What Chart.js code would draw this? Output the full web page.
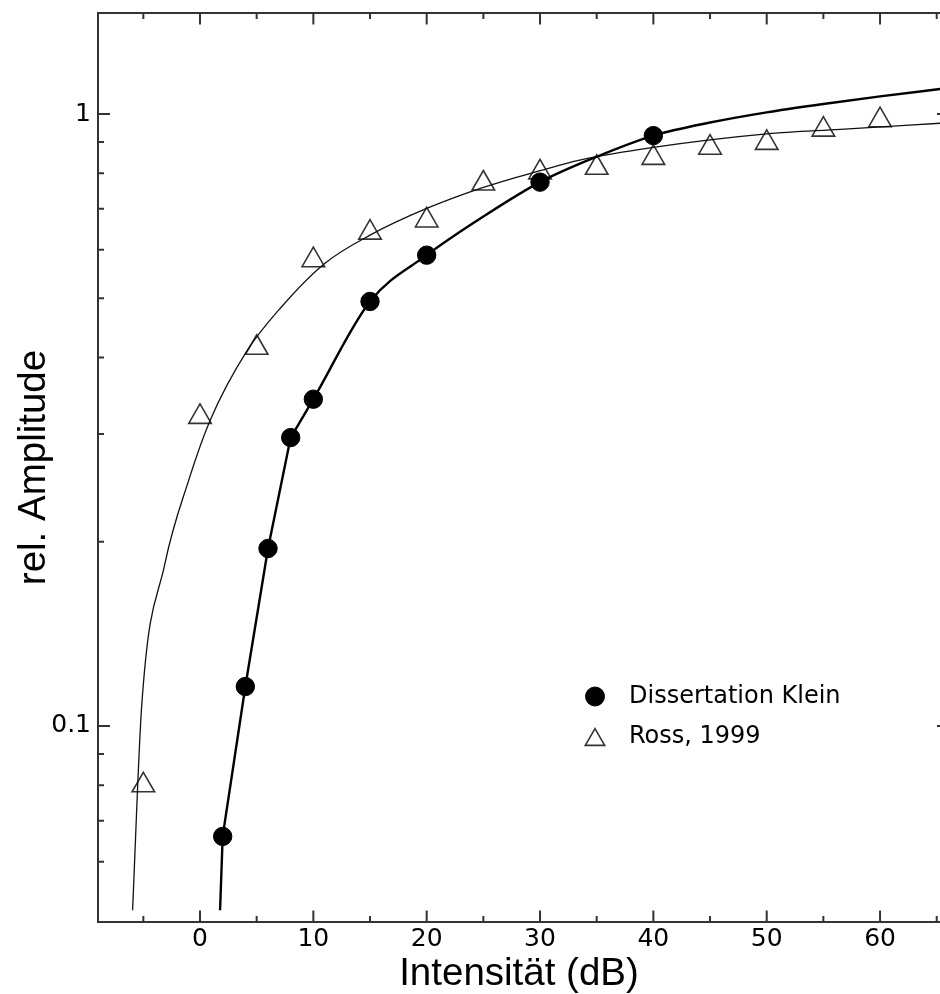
<!DOCTYPE html>
<html>
<head>
<meta charset="utf-8">
<script src="https://cdn.jsdelivr.net/npm/chart.js@4/dist/chart.umd.min.js"></script>
<style>
html,body{margin:0;padding:0;background:#fff;overflow:hidden;}
#wrap{width:940px;height:994px;overflow:hidden;}
</style>
</head>
<body>
<div id="wrap"><canvas id="c" width="940" height="994"></canvas></div>
<script>
// ---- data ----
const kleinX = [2, 4, 6, 8, 10, 15, 20, 30, 40];
const kleinY = [0.066, 0.116, 0.195, 0.296, 0.342, 0.494, 0.588, 0.774, 0.922];

const rossX = [-5, 0, 5, 10, 15, 20, 25, 30, 35, 40, 45, 50, 55, 60];
const rossY = [0.080, 0.320, 0.415, 0.577, 0.640, 0.670, 0.770, 0.803, 0.817, 0.848, 0.881, 0.897, 0.943, 0.977];

// fitted curves
// steep lower part of the Klein fit (drawn as straight segments)
const kleinFitLowX = [1.77, 2.0, 4.0, 6.0, 8.0];
const kleinFitLowY = [0.050, 0.066, 0.116, 0.195, 0.296];
// flatter upper part of the Klein fit (smooth)
const kleinFitHighX = [8.0, 10.0, 15.0, 20.0, 25.0, 30.0, 35.0, 40.0, 45.0, 50.0, 55.0, 60.0, 65.3];
const kleinFitHighY = [0.296, 0.342, 0.494, 0.588, 0.680, 0.774, 0.8515, 0.922, 0.9685, 1.0064, 1.0383, 1.0685, 1.0986];

const rossFitX = [-5.95, -5.15, -3.1, -1.0, 0.9, 4.1, 7.1, 11.0, 15.0, 20.0, 25.0, 30.0, 33.5, 40.0, 50.0, 56.5, 65.3];
const rossFitY = [0.050, 0.1075, 0.184, 0.252, 0.316, 0.409, 0.482, 0.570, 0.634, 0.701, 0.759, 0.808, 0.841, 0.882, 0.928, 0.944, 0.966];

const xTickValues = [0, 10, 20, 30, 40, 50, 60];
const xMinorValues = [-5, 5, 15, 25, 35, 45, 55, 65];
const yTickValues = [0.1, 1];
const yMinorValues = [0.06, 0.07, 0.08, 0.09, 0.2, 0.3, 0.4, 0.5, 0.6, 0.7, 0.8, 0.9];

const xTitle = 'Intensität (dB)';
const yTitle = 'rel. Amplitude';
const kleinLabel = 'Dissertation Klein';
const rossLabel = 'Ross, 1999';

const zip = (xs, ys) => xs.map((x, i) => ({x: x, y: ys[i]}));

const AXIS_COLOR = '#333';

const noPad = s => { s.paddingLeft = 0; s.paddingRight = 0; s.paddingTop = 0; s.paddingBottom = 0; };

// frame, inward ticks and inner legend
const framePlugin = {
  id: 'frameTicksLegend',
  afterDraw(chart) {
    const ctx = chart.ctx;
    const a = chart.chartArea;
    const xs = chart.scales.x, ys = chart.scales.y;
    const rightSpine = a.right + 9; // the right spine lies just outside the picture
    ctx.save();
    ctx.strokeStyle = AXIS_COLOR;
    ctx.lineWidth = 2;
    ctx.beginPath();
    ctx.moveTo(rightSpine, a.top);
    ctx.lineTo(a.left, a.top);
    ctx.lineTo(a.left, a.bottom);
    ctx.lineTo(rightSpine, a.bottom);
    ctx.stroke();
    const tick = (x1, y1, x2, y2) => { ctx.moveTo(x1, y1); ctx.lineTo(x2, y2); };
    ctx.beginPath();
    xTickValues.forEach(v => {
      const p = xs.getPixelForValue(v);
      tick(p, a.bottom, p, a.bottom - 11.5);
      tick(p, a.top, p, a.top + 11.5);
    });
    xMinorValues.forEach(v => {
      const p = xs.getPixelForValue(v);
      tick(p, a.bottom, p, a.bottom - 6);
      tick(p, a.top, p, a.top + 6);
    });
    yTickValues.forEach(v => {
      const p = ys.getPixelForValue(v);
      tick(a.left, p, a.left + 12, p);
      tick(rightSpine, p, rightSpine - 12, p);
    });
    yMinorValues.forEach(v => {
      const p = ys.getPixelForValue(v);
      tick(a.left, p, a.left + 6, p);
      tick(rightSpine, p, rightSpine - 6, p);
    });
    ctx.stroke();

    // legend inside the plot area
    const items = chart.data.datasets.filter(d => d.inLegend);
    const markerX = a.left + 497;
    const textX = a.left + 531;
    items.forEach((d, i) => {
      const midY = a.top + 683.5 + i * 40.5;
      const r = d.legendRadius;
      const cy = d.pointStyle === 'triangle' ? midY + r / 4 : midY;
      ctx.fillStyle = d.backgroundColor;
      ctx.strokeStyle = d.borderColor;
      ctx.lineWidth = d.borderWidth;
      Chart.helpers.drawPoint(ctx, {pointStyle: d.pointStyle, radius: r, borderWidth: d.borderWidth, rotation: 0}, markerX, cy);
      ctx.fillStyle = '#000';
      ctx.font = '24px "DejaVu Sans"';
      ctx.textBaseline = 'middle';
      ctx.textAlign = 'left';
      ctx.fillText(d.label, textX, midY);
    });
    ctx.restore();
  }
};

new Chart(document.getElementById('c'), {
  type: 'scatter',
  data: {
    datasets: [
      {
        label: 'Klein fit (low)',
        data: zip(kleinFitLowX, kleinFitLowY),
        showLine: true,
        pointRadius: 0,
        borderColor: '#000',
        borderWidth: 2.4,
        borderJoinStyle: 'round',
        tension: 0,
        fill: false
      },
      {
        label: 'Klein fit (high)',
        data: zip(kleinFitHighX, kleinFitHighY),
        showLine: true,
        pointRadius: 0,
        borderColor: '#000',
        borderWidth: 2.4,
        cubicInterpolationMode: 'monotone',
        fill: false
      },
      {
        label: 'Ross fit',
        data: zip(rossFitX, rossFitY),
        showLine: true,
        pointRadius: 0,
        borderColor: '#111',
        borderWidth: 1.3,
        cubicInterpolationMode: 'monotone',
        fill: false
      },
      {
        label: kleinLabel,
        data: zip(kleinX, kleinY),
        pointStyle: 'circle',
        pointRadius: 9.2,
        backgroundColor: '#000',
        borderColor: '#000',
        borderWidth: 1,
        inLegend: true,
        legendRadius: 9.5
      },
      {
        label: rossLabel,
        data: zip(rossX, rossY),
        pointStyle: 'triangle',
        pointRadius: 13,
        backgroundColor: 'rgba(0,0,0,0)',
        borderColor: '#333',
        borderWidth: 1.6,
        inLegend: true,
        legendRadius: 11.2
      }
    ]
  },
  options: {
    responsive: false,
    animation: false,
    devicePixelRatio: 1,
    layout: {autoPadding: false, padding: {top: 13, right: 0, bottom: 0, left: 0}},
    plugins: {
      legend: {display: false},
      tooltip: {enabled: false}
    },
    scales: {
      x: {
        type: 'linear',
        position: 'bottom',
        min: -9.0,
        max: 65.29,
        grid: {display: false, drawTicks: false},
        border: {display: false},
        afterBuildTicks: s => { s.ticks = xTickValues.map(v => ({value: v})); },
        afterFit: s => { s.height = 72; noPad(s); },
        ticks: {
          padding: 4.5,
          color: '#000',
          maxRotation: 0,
          font: {family: '"DejaVu Sans"', size: 25, lineHeight: 1},
          callback: v => String(v)
        },
        title: {
          display: true,
          text: xTitle,
          color: '#000',
          padding: {top: 0, bottom: 0},
          font: {family: '"Liberation Sans"', size: 38.5, lineHeight: 1}
        }
      },
      y: {
        type: 'logarithmic',
        position: 'left',
        min: 0.04783,
        max: 1.4625,
        grid: {display: false, drawTicks: false},
        border: {display: false},
        afterBuildTicks: s => { s.ticks = yTickValues.map(v => ({value: v})); },
        afterFit: s => { s.width = 98; noPad(s); },
        ticks: {
          padding: 7,
          color: '#000',
          font: {family: '"DejaVu Sans"', size: 25, lineHeight: 1},
          callback: v => String(v)
        },
        title: {
          display: true,
          text: yTitle,
          color: '#000',
          padding: {top: 15, bottom: 0},
          font: {family: '"Liberation Sans"', size: 38.5, lineHeight: 1}
        }
      }
    }
  },
  plugins: [framePlugin]
});
</script>
</body>
</html>
